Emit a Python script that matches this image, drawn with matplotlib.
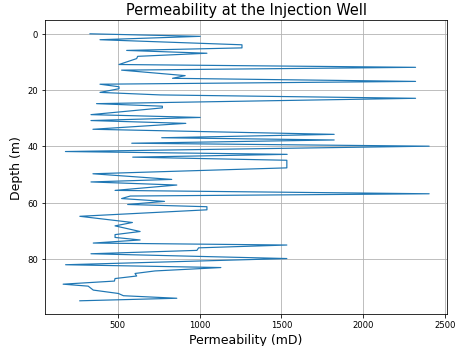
import matplotlib
matplotlib.use('Agg')
import matplotlib.pyplot as plt

# depth (m) and permeability (mD)
depth = [0.0, 0.9, 2.1, 3.9, 5.0, 5.9, 6.9, 8.0, 8.8, 10.9,
         11.9, 12.9, 14.85, 15.8, 16.9, 17.9, 18.8, 19.5, 20.8, 21.7,
         22.9, 24.8, 25.7, 26.3, 28.7, 29.7, 30.8, 31.8, 33.9, 35.7,
         36.9, 37.7, 38.85, 39.9, 41.8, 42.8, 43.8, 44.9, 47.6, 49.7,
         51.7, 52.6, 53.7, 55.6, 56.8, 57.6, 58.5, 59.5, 60.6, 61.4,
         62.5, 64.8, 67.0, 68.2, 70.2, 71.3, 72.3, 73.2, 74.3, 75.0,
         76.0, 76.9, 78.1, 79.8, 82.0, 83.0, 84.2, 85.1, 86.0, 86.9,
         87.8, 88.9, 89.6, 91.0, 92.2, 93.0, 93.9, 94.8]
perm = [331, 1004, 392, 1259, 1259, 555, 1045, 622, 616, 508,
        2319, 524, 912, 835, 2319, 392, 508, 508, 392, 760,
        2319, 371, 773, 773, 337, 1004, 337, 916, 349, 1822,
        769, 1822, 586, 2402, 181, 1535, 592, 1533, 1533, 349,
        830, 337, 861, 484, 2402, 577, 524, 786, 561, 1045,
        1045, 269, 590, 484, 637, 484, 484, 637, 351, 1533,
        994, 984, 337, 1533, 182, 1130, 728, 606, 616, 484,
        480, 167, 320, 351, 504, 535, 861, 269]

fig = plt.figure(figsize=(6.42, 4.81), dpi=72)
ax = fig.add_subplot(111)
fig.subplots_adjust(left=0.097, right=0.968, top=0.94, bottom=0.092)

ax.plot(perm, depth, color='tab:blue', linewidth=1.2)
ax.invert_yaxis()
ax.grid(True)
ax.set_title('Permeability at the Injection Well', fontsize=14.5)
ax.set_xlabel('Permeability (mD)', fontsize=12.5)
ax.set_ylabel('Depth (m)', fontsize=12.5)
ax.tick_params(labelsize=8.5)

plt.savefig('out.png', dpi=72)
